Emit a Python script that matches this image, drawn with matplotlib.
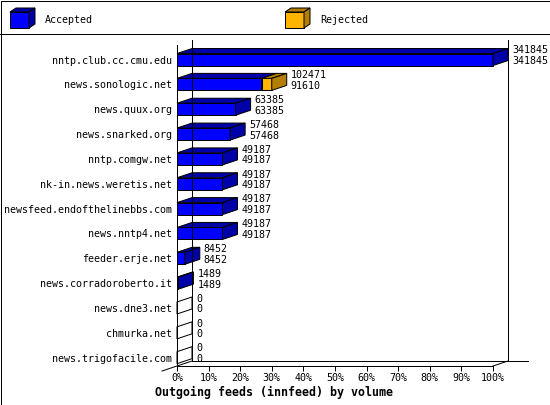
import matplotlib
matplotlib.use('Agg')
import matplotlib.pyplot as plt
import matplotlib.transforms as mtransforms
from matplotlib.patches import Polygon, Rectangle

# data
hosts = ['nntp.club.cc.cmu.edu', 'news.sonologic.net', 'news.quux.org',
         'news.snarked.org', 'nntp.comgw.net', 'nk-in.news.weretis.net',
         'newsfeed.endofthelinebbs.com', 'news.nntp4.net', 'feeder.erje.net',
         'news.corradoroberto.it', 'news.dne3.net', 'chmurka.net',
         'news.trigofacile.com']
total = [341845, 102471, 63385, 57468, 49187, 49187, 49187, 49187, 8452, 1489, 0, 0, 0]
accepted = [341845, 91610, 63385, 57468, 49187, 49187, 49187, 49187, 8452, 1489, 0, 0, 0]
xticks = list(range(0, 101, 10))
xticklabels = ['%d%%' % t for t in xticks]
legend_labels = ['Accepted', 'Rejected']
title = 'Outgoing feeds (innfeed) by volume'

BLUE, BLUE_D = '#0000ff', '#0000a8'
ORANGE, ORANGE_D = '#ffb400', '#b47e00'
FONT = 'DejaVu Sans Mono'
FS = 7.2
LW = 0.72

W, H, DPI = 550, 405, 100
fig = plt.figure(figsize=(W / DPI, H / DPI), dpi=DPI)
fig.patch.set_facecolor('white')

# frame / legend layer in pixel coords
frame = fig.add_axes([0, 0, 1, 1])
frame.set_xlim(0, W)
frame.set_ylim(H, 0)
frame.axis('off')
frame.add_patch(Rectangle((0.5, 0.5), W - 1, H - 1, fill=False, ec='black', lw=LW))
frame.plot([0, W], [33.5, 33.5], color='black', lw=LW)

def legend_box(x, col, dcol, label):
    y0, y1, d, e = 12, 28, 6, 4
    frame.add_patch(Polygon([(x, y0), (x + 19, y0), (x + 19, y1), (x, y1)], fc=col, ec='black', lw=LW))
    frame.add_patch(Polygon([(x, y0), (x + d, y0 - e), (x + 19 + d, y0 - e), (x + 19, y0)], fc=dcol, ec='black', lw=LW))
    frame.add_patch(Polygon([(x + 19, y0), (x + 19 + d, y0 - e), (x + 19 + d, y1 - e), (x + 19, y1)], fc=dcol, ec='black', lw=LW))
    frame.text(x + 35, 20, label, family=FONT, fontsize=FS, va='center', ha='left')

legend_box(10, BLUE, BLUE_D, legend_labels[0])
legend_box(285, ORANGE, ORANGE_D, legend_labels[1])

# main plot, front plane: x 0..100 %, rows top to bottom
left_px, right_px, top_px, bot_px = 177, 493, 45, 366
ax = fig.add_axes([left_px / W, 1 - bot_px / H, (right_px - left_px) / W, (bot_px - top_px) / H])
ax.patch.set_alpha(0)
n = len(hosts)
ytop, ybot = -0.585, n - 1 + 0.335
ax.set_xlim(0, 100)
ax.set_ylim(ybot, ytop)

px_x = 100 / (right_px - left_px)
px_y = (ybot - ytop) / (bot_px - top_px)
DX, DY = 15 * px_x, 5 * px_y
HH = 6 * px_y

for s in ['top', 'right']:
    ax.spines[s].set_visible(False)
for s in ['left', 'bottom']:
    ax.spines[s].set_linewidth(LW)

ax.set_xticks(xticks)
ax.set_xticklabels(xticklabels, family=FONT, fontsize=FS)
ax.tick_params(axis='x', length=3.6, width=LW, pad=1.5)
ax.set_yticks(range(n))
ax.set_yticklabels(hosts, family=FONT, fontsize=FS)
ax.tick_params(axis='y', length=0, pad=3.3)

# back walls and floor
kw = dict(color='black', lw=LW, clip_on=False)
ax.plot([DX, DX], [ytop - DY, ybot - DY], **kw)
ax.plot([100 + DX, 100 + DX], [ytop - DY, ybot - DY], **kw)
ax.plot([DX, 100 + DX + 20 * px_x], [ybot - DY, ybot - DY], **kw)
ax.plot([-DX, DX], [ybot + DY, ybot - DY], **kw)
ax.plot([100, 100 + DX], [ybot, ybot - DY], **kw)

def seg(x0, x1, y, col, dcol):
    t, b = y - HH, y + HH
    ax.add_patch(Polygon([(x0, t), (x1, t), (x1, b), (x0, b)], fc=col, ec='black', lw=LW, clip_on=False))
    ax.add_patch(Polygon([(x0, t), (x0 + DX, t - DY), (x1 + DX, t - DY), (x1, t)], fc=dcol, ec='black', lw=LW, clip_on=False))
    ax.add_patch(Polygon([(x1, t), (x1 + DX, t - DY), (x1 + DX, b - DY), (x1, b)], fc=dcol, ec='black', lw=LW, clip_on=False))

vmax = max(total)
off_top = ax.transData + mtransforms.ScaledTranslation(4 / DPI, 9.2 / DPI, fig.dpi_scale_trans)
off_bot = ax.transData + mtransforms.ScaledTranslation(4 / DPI, -1.5 / DPI, fig.dpi_scale_trans)
for i, (tot, acc) in enumerate(zip(total, accepted)):
    pt = tot / vmax * 100
    pa = acc / vmax * 100
    if tot == 0:
        t, b = i - HH, i + HH
        ax.add_patch(Polygon([(0, t), (DX, t - DY), (DX, b - DY), (0, b)], fill=False, ec='black', lw=LW, clip_on=False))
    else:
        seg(0, pa, i, BLUE, BLUE_D)
        if tot > acc:
            seg(pa, pt, i, ORANGE, ORANGE_D)
    ax.text(pt + DX, i, str(tot), transform=off_top, family=FONT, fontsize=FS, va='center', ha='left', clip_on=False)
    ax.text(pt + DX, i, str(acc), transform=off_bot, family=FONT, fontsize=FS, va='center', ha='left', clip_on=False)

fig.text(155 / W, 1 - 392 / H, title, family=FONT, fontsize=8.4, fontweight='bold', va='center', ha='left')

fig.savefig('out.png', dpi=DPI)
